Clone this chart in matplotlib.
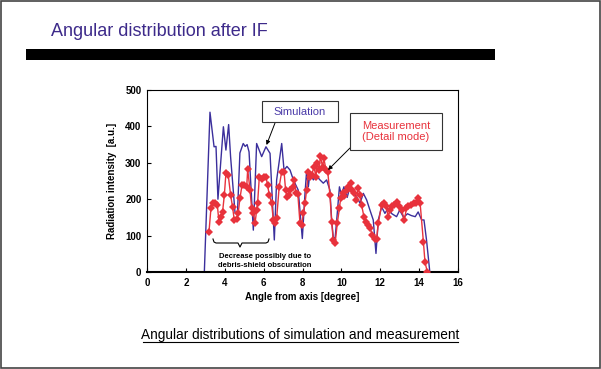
import matplotlib
matplotlib.use("Agg")
import matplotlib.pyplot as plt
from matplotlib.patches import Rectangle
from matplotlib.lines import Line2D

plt.rcParams['font.family'] = ['Liberation Sans', 'DejaVu Sans']

# ---------------- data ----------------
sim_angle = [0, 2.95, 3.24, 3.45, 3.55, 3.65, 3.93, 4.06, 4.2, 4.3, 4.53, 4.65, 4.78, 4.95,
             5.05, 5.15, 5.25, 5.47, 5.64, 5.9, 6.12, 6.33, 6.55, 6.67, 6.93, 7.05, 7.2,
             7.36, 7.53, 7.78, 7.99, 8.13, 8.21, 8.3, 8.38, 8.56, 8.7, 8.9, 9.07, 9.24,
             9.41, 9.5, 9.58, 9.67, 9.76, 9.9, 10.0, 10.13, 10.3, 10.44, 10.61, 10.78,
             10.96, 11.13, 11.3, 11.47, 11.64, 11.78, 11.9, 12.07, 12.24, 12.4, 12.6,
             12.84, 13.0, 13.2, 13.4, 13.6, 13.8, 13.95, 14.13, 14.25, 14.38, 14.55, 15.0]
sim_value = [0, 0, 439, 344, 345, 200, 399, 335, 405, 317, 162, 157, 327, 353,
             345, 350, 330, 115, 353, 317, 344, 326, 88, 253, 353, 280, 290,
             280, 253, 225, 92, 217, 276, 234, 271, 253, 265, 253, 244, 253,
             225, 143, 97, 88, 143, 234, 212, 234, 205, 234, 216, 207,
             189, 216, 198, 170, 143, 51, 143, 179, 161, 175, 160,
             152, 170, 150, 160, 155, 152, 165, 143, 143, 88, 0, 0]

meas_angle = [3.19, 3.29, 3.42, 3.52, 3.62, 3.70, 3.80, 3.89, 3.98, 4.06, 4.18, 4.30, 4.40,
              4.49, 4.61, 4.69, 4.78, 4.89, 5.01, 5.13, 5.18, 5.30, 5.38, 5.47, 5.56, 5.64,
              5.69, 5.78, 5.90, 6.02, 6.12, 6.20, 6.29, 6.41, 6.50, 6.58, 6.67, 6.80, 6.93,
              7.05, 7.13, 7.22, 7.30, 7.38, 7.49, 7.57, 7.66, 7.76, 7.87, 7.95, 8.05, 8.13,
              8.21, 8.30, 8.41, 8.47, 8.59, 8.69, 8.76, 8.85, 8.92, 9.03, 9.10, 9.21, 9.30,
              9.41, 9.50, 9.58, 9.68, 9.79, 9.90, 9.96, 10.06, 10.15, 10.27, 10.36, 10.47,
              10.56, 10.66, 10.75, 10.87, 10.96, 11.04, 11.16, 11.26, 11.38, 11.47, 11.60,
              11.73, 11.81, 11.90, 12.07, 12.20, 12.30, 12.41, 12.50, 12.58, 12.70, 12.84,
              12.95, 13.10, 13.24, 13.35, 13.45, 13.60, 13.73, 13.84, 13.92, 14.05, 14.22,
              14.30, 14.42]
meas_value = [111, 175, 189, 189, 184, 138, 152, 166, 212, 271, 266, 212, 179,
              143, 145, 161, 202, 239, 239, 234, 282, 225, 175, 161, 134, 170,
              189, 262, 255, 262, 262, 239, 212, 189, 143, 134, 147, 234, 276,
              276, 225, 207, 212, 225, 234, 253, 216, 214, 134, 129, 161, 189,
              225, 276, 262, 266, 289, 262, 300, 280, 319, 289, 312, 280, 275,
              212, 138, 88, 79, 134, 175, 202, 216, 210, 225, 234, 244,
              225, 216, 198, 230, 212, 184, 152, 138, 129, 120, 102,
              92, 90, 134, 184, 190, 180, 152, 170, 181, 185, 193,
              180, 170, 143, 175, 181, 184, 189, 189, 202, 190, 83,
              28, 0]

x_ticks = [0, 2, 4, 6, 8, 10, 12, 14, 16]
y_ticks = [0, 100, 200, 300, 400, 500]

# ---------------- figure ----------------
W, H = 601, 369
fig = plt.figure(figsize=(W / 100, H / 100), dpi=100)

def fx(x):
    return x / W

def fy(y):
    return 1 - y / H

# slide border
fig.patches.append(Rectangle((0.001, 0.002), 0.997, 0.996, transform=fig.transFigure,
                             fill=False, edgecolor='#444444', lw=1.2))
# title
fig.text(fx(51), fy(36), "Angular distribution after IF", color='#3d2a8a',
         fontsize=13, va='baseline', ha='left')
# black bar
fig.patches.append(Rectangle((fx(26), fy(60)), fx(495) - fx(26), fy(49) - fy(60),
                             transform=fig.transFigure, facecolor='black', edgecolor='none'))

# axes
ax = fig.add_axes([fx(147), fy(272), fx(458) - fx(147), fy(90) - fy(272)])
ax.plot(sim_angle, sim_value, color='#3b2f9c', lw=1.0, zorder=2)
ax.plot(meas_angle, meas_value, color='#e8323c', lw=1.0, marker='D', ms=3.7,
        markeredgewidth=0, zorder=3)
ax.set_xlim(0, 16)
ax.set_ylim(0, 500)
ax.set_xticks(x_ticks)
ax.set_yticks(y_ticks)
ax.set_xticklabels([str(t) for t in x_ticks], fontweight='bold', fontsize=7)
ax.set_yticklabels([str(t) for t in y_ticks], fontweight='bold', fontsize=7)
ax.tick_params(direction='in', length=3, width=0.8, pad=4)
for s in ax.spines.values():
    s.set_linewidth(0.8)
    s.set_color('black')
ax.spines['bottom'].set_linewidth(1.5)
ax.set_xlabel("Angle from axis [degree]", fontweight='bold', fontsize=7, labelpad=3)
ax.set_ylabel("Radiation intensity  [a.u.]", fontweight='bold', fontsize=7, labelpad=6)

# Simulation label box + arrow
fig.patches.append(Rectangle((fx(262), fy(122)), fx(338) - fx(262), fy(101) - fy(122),
                             transform=fig.transFigure, facecolor='white',
                             edgecolor='#333333', lw=0.8))
fig.text(fx(300), fy(112), "Simulation", color='#4a3aa8', fontsize=8,
         ha='center', va='center')
ax.annotate("", xy=(fx(266.5), fy(145)), xycoords='figure fraction',
            xytext=(fx(275), fy(123)), textcoords='figure fraction',
            arrowprops=dict(arrowstyle='-|>', color='black', lw=0.7,
                            mutation_scale=6, shrinkA=0, shrinkB=0))

# Measurement label box + arrow
fig.patches.append(Rectangle((fx(350), fy(150)), fx(442) - fx(350), fy(113) - fy(150),
                             transform=fig.transFigure, facecolor='white',
                             edgecolor='#333333', lw=0.8))
fig.text(fx(396), fy(131.5), "Measurement\n(Detail mode)", color='#e8323c', fontsize=8,
         ha='center', va='center', linespacing=1.15)
ax.annotate("", xy=(fx(328), fy(170)), xycoords='figure fraction',
            xytext=(fx(350), fy(148)), textcoords='figure fraction',
            arrowprops=dict(arrowstyle='-|>', color='black', lw=0.7,
                            mutation_scale=6, shrinkA=0, shrinkB=0))

# brace
bx = [213, 214, 216, 238, 240, 242, 266, 268, 269]
by = [239, 242, 243, 243, 247, 243, 243, 242, 239]
fig.lines.append(Line2D([fx(v) for v in bx], [fy(v) for v in by],
                        transform=fig.transFigure, color='black', lw=0.8))
fig.text(fx(265), fy(261), "Decrease possibly due to\ndebris-shield obscuration",
         fontsize=5.5, fontweight='bold', ha='center', va='center', linespacing=1.3)

# caption
fig.text(fx(300.5), fy(339.5), "Angular distributions of simulation and measurement",
         fontsize=9.8, ha='center', va='baseline')
fig.lines.append(Line2D([fx(143), fx(458)], [fy(341.5), fy(341.5)],
                        transform=fig.transFigure, color='black', lw=0.8))

fig.savefig("out.png", dpi=100, facecolor='white')
